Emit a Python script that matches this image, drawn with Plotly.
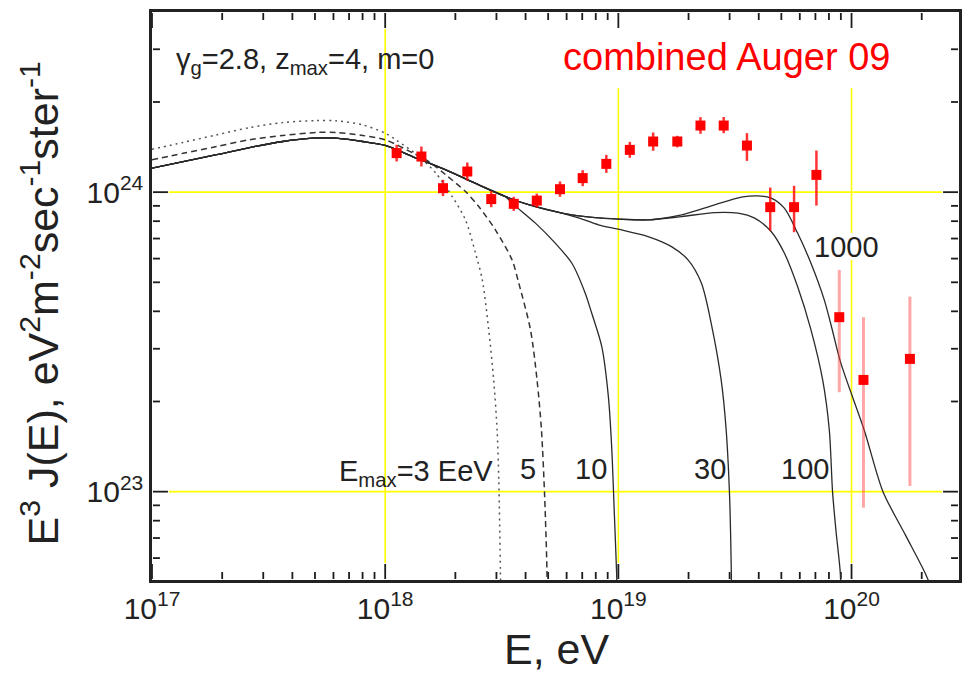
import math
import plotly.graph_objects as go

UNIT = 1e24  # flux values below are in units of 1e24 eV^2 m^-2 s^-1 sr^-1

# ---- combined Auger 2009 spectrum -------------------------------------------
auger_E = [1.12e18, 1.43e18, 1.77e18, 2.25e18, 2.85e18, 3.56e18, 4.47e18,
           5.62e18, 7.03e18, 8.88e18, 1.12e19, 1.41e19, 1.79e19, 2.25e19,
           2.83e19, 3.56e19, 4.48e19, 5.67e19, 7.07e19, 8.86e19, 1.125e20,
           1.78e20]
auger_J = [1.350, 1.315, 1.031, 1.172, 0.948, 0.914, 0.937, 1.023, 1.114,
           1.243, 1.384, 1.476, 1.476, 1.669, 1.669, 1.431, 0.891, 0.891,
           1.142, 0.3824, 0.2361, 0.2775]
auger_hi = [1.439, 1.420, 1.099, 1.256, 1.008, 0.965, 0.989, 1.086, 1.184,
            1.332, 1.472, 1.582, 1.542, 1.780, 1.782, 1.574, 1.036, 1.050,
            1.377, 0.550, 0.3824, 0.448]
auger_lo = [1.266, 1.218, 0.970, 1.093, 0.891, 0.866, 0.888, 0.965, 1.047,
            1.160, 1.302, 1.374, 1.411, 1.566, 1.574, 1.272, 0.743, 0.735,
            0.902, 0.2148, 0.0884, 0.1045]
N_LOW_STAT = 3  # the last bins have large errors, drawn with fainter bars

# ---- model spectra ------------------------------------------------------------
# common low-energy part of the solid curves
solid_E_low = [1.0e17, 1.36e17, 1.89e17, 2.62e17, 3.64e17, 4.89e17, 6.15e17,
               8.0e17, 1.0e18, 1.31e18, 1.82e18, 2.52e18, 3.28e18]
solid_J_low = [1.202, 1.265, 1.334, 1.409, 1.476, 1.514, 1.514, 1.476, 1.432,
               1.315, 1.186, 1.057, 0.966]

# E_max = 10 EeV
e10_E = [3.50e18, 4.41e18, 5.36e18, 6.32e18, 7.21e18, 7.69e18, 8.49e18,
         9.06e18, 9.36e18, 9.61e18, 9.83e18, 9.90e18]
e10_J = [0.919, 0.788, 0.676, 0.579, 0.460, 0.394, 0.305, 0.208, 0.1414,
         0.0847, 0.0534, 0.0435]

# shared by E_max = 30, 100, 1000 EeV
mid_E = [4.12e18, 5.73e18]
mid_J = [0.908, 0.851]

# E_max = 30 EeV
e30_E = [6.95e18, 8.22e18, 1.0e19, 1.34e19, 1.69e19, 1.99e19, 2.27e19,
         2.51e19, 2.76e19, 2.90e19, 3.00e19, 3.05e19, 3.06e19]
e30_J = [0.815, 0.778, 0.752, 0.711, 0.658, 0.594, 0.497, 0.360, 0.236,
         0.1607, 0.0962, 0.0548, 0.0435]

# shared by E_max = 100, 1000 EeV
hi_E = [7.94e18, 1.0e19, 1.34e19]
hi_J = [0.822, 0.813, 0.808]

# E_max = 100 EeV
e100_E = [1.87e19, 2.59e19, 3.26e19, 3.84e19, 4.52e19, 5.15e19, 5.87e19,
          6.70e19, 7.52e19, 8.03e19, 8.29e19, 8.57e19, 8.95e19, 9.02e19]
e100_J = [0.829, 0.855, 0.851, 0.819, 0.739, 0.626, 0.484, 0.347, 0.236,
          0.1607, 0.1000, 0.0745, 0.0535, 0.0435]

# E_max = 1000 EeV
e1000_E = [1.87e19, 2.59e19, 3.37e19, 3.96e19, 4.52e19, 5.15e19, 5.87e19,
           6.70e19, 7.64e19, 8.17e19, 9.00e19, 1.133e20, 1.364e20, 1.702e20,
           2.07e20, 2.20e20]
e1000_J = [0.840, 0.907, 0.962, 0.972, 0.955, 0.884, 0.730, 0.579, 0.437,
           0.360, 0.2685, 0.1607, 0.1000, 0.0717, 0.0534, 0.0477]

# E_max = 3 EeV (dotted)
e3_E = [1.0e17, 1.36e17, 1.89e17, 2.62e17, 3.64e17, 5.06e17, 6.15e17, 8.0e17,
        1.0e18, 1.11e18, 1.40e18, 1.65e18, 1.94e18, 2.21e18, 2.44e18, 2.61e18,
        2.78e18, 2.92e18, 3.02e18, 3.07e18, 3.12e18, 3.13e18]
e3_J = [1.390, 1.466, 1.553, 1.643, 1.708, 1.734, 1.730, 1.678, 1.574, 1.496,
        1.315, 1.157, 0.966, 0.808, 0.626, 0.509, 0.347, 0.236, 0.1607, 0.1094,
        0.0548, 0.0435]

# E_max = 5 EeV (dashed)
e5_E = [1.0e17, 1.36e17, 1.89e17, 2.62e17, 3.64e17, 5.06e17, 6.15e17, 8.0e17,
        1.0e18, 1.31e18, 1.54e18, 1.82e18, 2.21e18, 2.52e18, 2.97e18, 3.50e18,
        3.74e18, 4.20e18, 4.48e18, 4.68e18, 4.83e18, 4.94e18, 4.95e18]
e5_J = [1.282, 1.348, 1.420, 1.496, 1.546, 1.582, 1.582, 1.546, 1.496, 1.353,
        1.265, 1.142, 1.005, 0.895, 0.748, 0.594, 0.497, 0.347, 0.236, 0.1607,
        0.0962, 0.0548, 0.0435]

# ---- axes ticks -----------------------------------------------------------------
x_major = [1e17, 1e18, 1e19, 1e20]
x_labels = ["10<sup>17</sup>", "10<sup>18</sup>", "10<sup>19</sup>", "10<sup>20</sup>"]
y_major = [1e23, 1e24]
y_labels = ["10<sup>23</sup>", "10<sup>24</sup>"]
x_minor = [m * 10.0 ** p for p in (17, 18, 19) for m in range(2, 10)] + [2e20]
y_minor = ([m * 1e22 for m in range(6, 10)] + [m * 1e23 for m in range(2, 10)]
           + [2e24, 3e24])

X_RANGE = [17.0, math.log10(2.89e20)]
Y_RANGE = [math.log10(5.07e22), math.log10(3.995e24)]

# ---- figure geometry (pixels) ----------------------------------------------------
W, H = 969, 675
L, R, T, B = 152, 7, 12, 95
PW, PH = W - L - R, H - T - B
BOT, TOP, LEFT, RIGHT = H - B, T, L, W - R


def fx(px):
    return (px - L) / PW


def fy(py):
    return (H - B - py) / PH


def ex(px):
    """pixel column -> energy on the log axis"""
    return 10 ** (X_RANGE[0] + fx(px) * (X_RANGE[1] - X_RANGE[0]))


def jy(py):
    """pixel row -> flux on the log axis"""
    return 10 ** (Y_RANGE[0] + fy(py) * (Y_RANGE[1] - Y_RANGE[0]))


INK = "#222222"
LINE = "#2a2a2a"
YEL = "#ffff00"
MAJ, MIN = 16, 8
inset = MAJ + 1

fig = go.Figure()

# ---- yellow decade lines (drawn first, underneath everything) ---------------------
gx, gy = [], []
for e, segs in ((1e18, [(TOP + inset, BOT - inset)]),
                (1e19, [(88, BOT - inset)]),
                (1e20, [(88, 233), (260, BOT - inset)])):
    for top, bot in segs:
        gx += [e, e, None]
        gy += [jy(top), jy(bot), None]
for j in (1e23, 1e24):
    gx += [ex(LEFT + inset), ex(RIGHT - inset), None]
    gy += [j, j, None]
fig.add_trace(go.Scatter(x=gx, y=gy, mode="lines", line=dict(color=YEL, width=1.6),
                         connectgaps=False, hoverinfo="skip"))

# ---- inward tick marks on all four sides ---------------------------------------------
tx, ty = [], []
for vals, ln in ((x_major, MAJ), (x_minor, MIN)):
    for v in vals:
        tx += [v, v, None, v, v, None]
        ty += [jy(BOT - 1), jy(BOT - ln), None, jy(TOP + 1), jy(TOP + ln), None]
for vals, ln in ((y_major, MAJ), (y_minor, MIN)):
    for v in vals:
        tx += [ex(LEFT + 1), ex(LEFT + ln), None, ex(RIGHT - 1), ex(RIGHT - ln), None]
        ty += [v, v, None, v, v, None]
fig.add_trace(go.Scatter(x=tx, y=ty, mode="lines", line=dict(color="#1c1c1c", width=1.8),
                         connectgaps=False, hoverinfo="skip"))


def scaled(vals):
    return [v * UNIT for v in vals]


def model(E, J, dash="solid", width=1.3, color=LINE):
    fig.add_trace(go.Scatter(
        x=E, y=scaled(J), mode="lines",
        line=dict(color=color, width=width, dash=dash, shape="spline", smoothing=0.8),
        hoverinfo="skip"))


model(e3_E, e3_J, dash="2px,4px", width=1.5, color="#555555")
model(e5_E, e5_J, dash="6px,4px", width=1.5, color="#333333")
model(solid_E_low + e10_E, solid_J_low + e10_J)
model(solid_E_low + mid_E + e30_E, solid_J_low + mid_J + e30_J)
model(solid_E_low + mid_E + hi_E + e100_E, solid_J_low + mid_J + hi_J + e100_J)
model(solid_E_low + mid_E + hi_E + e1000_E, solid_J_low + mid_J + hi_J + e1000_J)


def auger(sl, bar_color, bar_width):
    E, J = auger_E[sl], auger_J[sl]
    hi, lo = auger_hi[sl], auger_lo[sl]
    fig.add_trace(go.Scatter(
        x=E, y=scaled(J), mode="markers",
        marker=dict(symbol="square", size=10, color="#ff0000", line=dict(width=0)),
        error_y=dict(type="data", symmetric=False,
                     array=[(h - j) * UNIT for h, j in zip(hi, J)],
                     arrayminus=[(j - l) * UNIT for j, l in zip(J, lo)],
                     color=bar_color, thickness=bar_width, width=0),
        hoverinfo="skip"))


auger(slice(0, len(auger_E) - N_LOW_STAT), "rgba(255,0,0,0.8)", 2.5)
auger(slice(len(auger_E) - N_LOW_STAT, None), "rgba(255,60,60,0.45)", 3)

FONT = "Liberation Sans, Arial, Helvetica, sans-serif"
annotations = [
    dict(text="combined Auger 09", x=fx(729), y=fy(57), font=dict(size=38, color="#ff0000")),
    dict(text="γ<sub>g</sub>=2.8, z<sub>max</sub>=4, m=0", x=fx(174), y=fy(61),
         xanchor="left", font=dict(size=29, color=INK)),
    dict(text="E<sub>max</sub>=3 EeV", x=fx(338), y=fy(473), xanchor="left",
         font=dict(size=29, color=INK)),
    dict(text="5", x=fx(529), y=fy(469), font=dict(size=29, color=INK)),
    dict(text="10", x=fx(592.5), y=fy(469), font=dict(size=29, color=INK)),
    dict(text="30", x=fx(711.7), y=fy(469), font=dict(size=29, color=INK)),
    dict(text="100", x=fx(807.7), y=fy(469), font=dict(size=29, color=INK)),
    dict(text="1000", x=fx(849), y=fy(247), font=dict(size=29, color=INK)),
    dict(text="E<sup>3</sup> J(E), eV<sup>2</sup>m<sup>-2</sup>sec<sup>-1</sup>ster<sup>-1</sup>",
         x=fx(40), y=fy(303), textangle=-90, font=dict(size=43, color=INK)),
    dict(text="E, eV", x=fx(558), y=fy(649), font=dict(size=43, color=INK)),
]
for a in annotations:
    a.setdefault("xanchor", "center")
    a.update(xref="paper", yref="paper", yanchor="middle", showarrow=False)

frame = dict(type="log", showgrid=False, zeroline=False, ticks="", mirror=True,
             showline=True, linecolor=INK, linewidth=2.5, tickmode="array",
             tickfont=dict(size=30, color=INK, family=FONT))

fig.update_layout(
    width=W, height=H, margin=dict(l=L, r=R, t=T, b=B, pad=0),
    plot_bgcolor="white", paper_bgcolor="white", showlegend=False,
    font=dict(family=FONT, color=INK),
    xaxis=dict(range=X_RANGE, tickvals=x_major, ticktext=x_labels, **frame),
    yaxis=dict(range=Y_RANGE, tickvals=y_major, ticktext=y_labels, **frame),
    annotations=annotations,
)

fig.write_html("out.html")
